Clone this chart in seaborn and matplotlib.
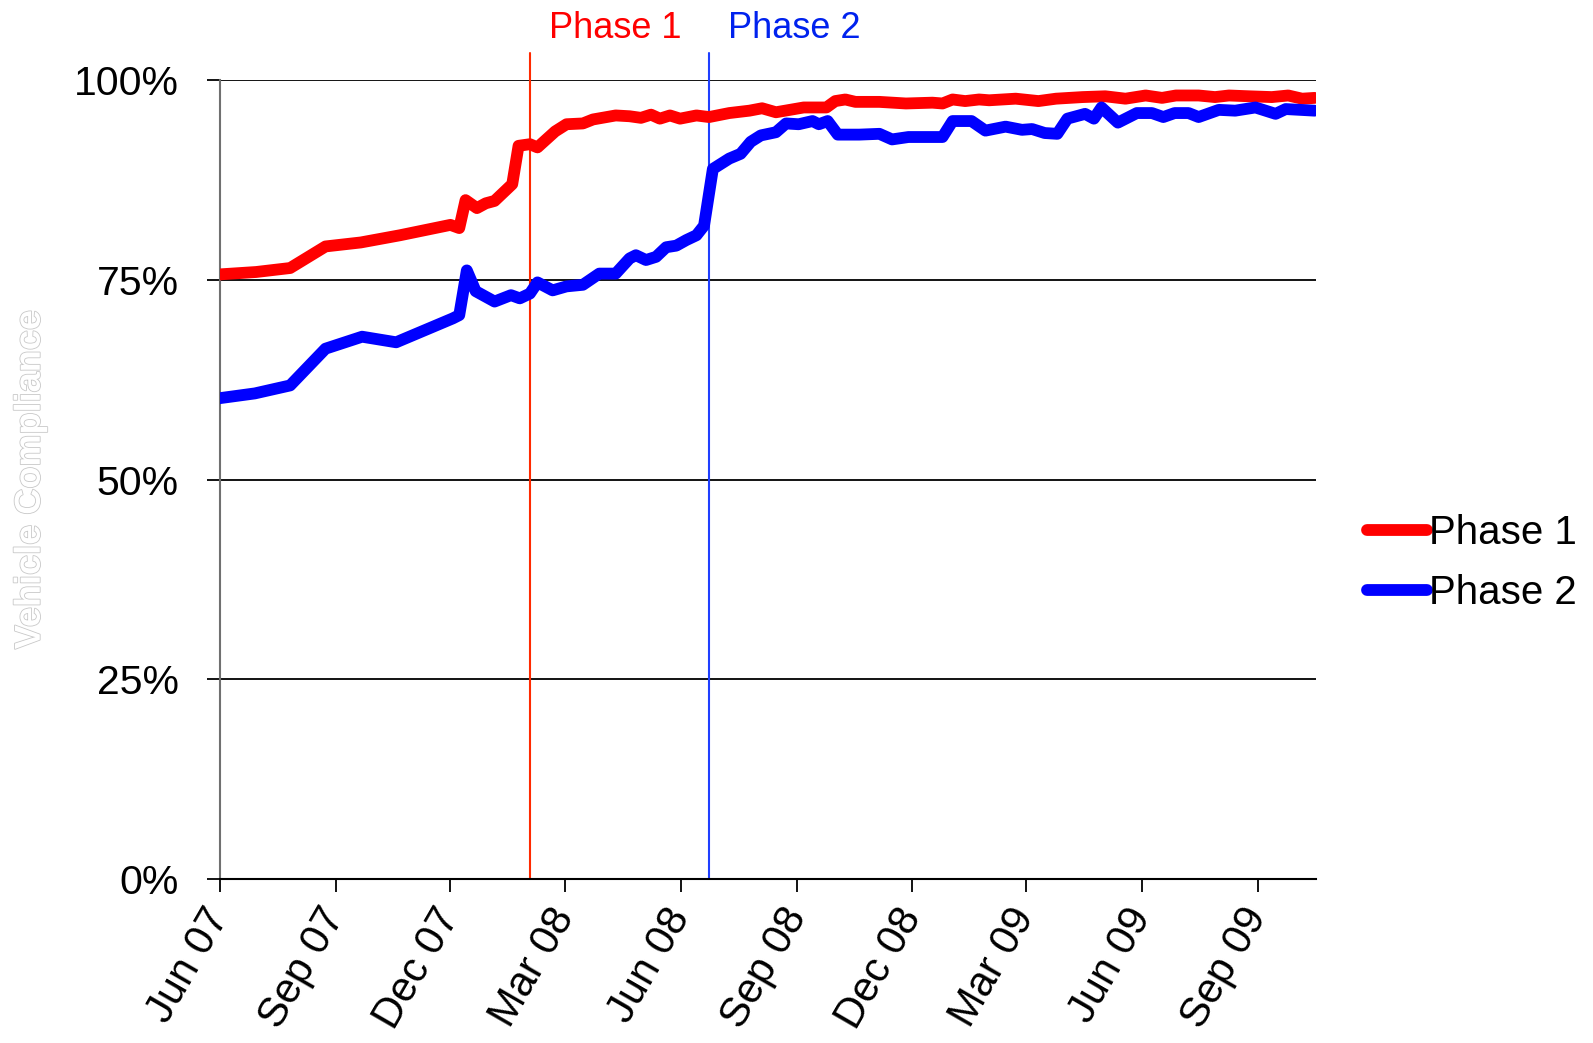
import pandas as pd
import matplotlib
matplotlib.use('Agg')
import matplotlib.pyplot as plt
import matplotlib.dates as mdates
import matplotlib.patheffects as pe
import seaborn as sns

# weekly compliance readings (%)
phase1_dates = [
    '2007-06-01', '2007-06-30', '2007-07-27', '2007-08-24', '2007-09-21', '2007-10-22',
    '2007-12-01', '2007-12-08', '2007-12-13', '2007-12-22', '2007-12-29', '2008-01-05',
    '2008-01-19', '2008-01-24', '2008-02-02', '2008-02-08', '2008-02-22', '2008-03-02',
    '2008-03-15', '2008-03-23', '2008-04-10', '2008-04-21', '2008-04-30', '2008-05-08',
    '2008-05-15', '2008-05-23', '2008-05-31', '2008-06-13', '2008-06-23', '2008-07-09',
    '2008-07-25', '2008-08-04', '2008-08-15', '2008-08-26', '2008-09-06', '2008-09-24',
    '2008-10-01', '2008-10-09', '2008-10-17', '2008-11-05', '2008-11-26', '2008-12-17',
    '2008-12-25', '2009-01-02', '2009-01-12', '2009-01-23', '2009-01-31', '2009-02-21',
    '2009-03-11', '2009-03-25', '2009-04-15', '2009-05-03', '2009-05-19', '2009-06-04',
    '2009-06-17', '2009-06-28', '2009-07-16', '2009-07-29', '2009-08-09', '2009-08-25',
    '2009-09-12', '2009-09-25', '2009-10-06', '2009-10-16',
]
phase1_values = [
    75.7, 76.0, 76.5, 79.2, 79.7, 80.6,
    81.9, 81.5, 85.0, 84.0, 84.6, 84.9,
    87.0, 91.8, 92.0, 91.6, 93.6, 94.5,
    94.6, 95.1, 95.6, 95.5, 95.3, 95.7,
    95.2, 95.6, 95.2, 95.6, 95.4, 95.9,
    96.2, 96.5, 96.0, 96.3, 96.6, 96.6,
    97.4, 97.6, 97.3, 97.3, 97.1, 97.2,
    97.1, 97.6, 97.4, 97.6, 97.5, 97.7,
    97.4, 97.7, 97.9, 98.0, 97.7, 98.1,
    97.8, 98.1, 98.1, 97.9, 98.1, 98.0,
    97.9, 98.1, 97.7, 97.8,
]

phase2_dates = [
    '2007-06-01', '2007-06-29', '2007-07-27', '2007-08-24', '2007-09-22', '2007-10-19',
    '2007-12-03', '2007-12-08', '2007-12-14', '2007-12-21', '2008-01-05', '2008-01-18',
    '2008-01-25', '2008-02-02', '2008-02-08', '2008-02-20', '2008-03-02', '2008-03-15',
    '2008-03-28', '2008-04-10', '2008-04-21', '2008-04-26', '2008-05-04', '2008-05-12',
    '2008-05-20', '2008-05-28', '2008-06-05', '2008-06-13', '2008-06-19', '2008-06-26',
    '2008-07-09', '2008-07-18', '2008-07-26', '2008-08-03', '2008-08-15', '2008-08-23',
    '2008-09-02', '2008-09-13', '2008-09-18', '2008-09-25', '2008-10-03', '2008-10-20',
    '2008-11-05', '2008-11-15', '2008-11-28', '2008-12-25', '2009-01-02', '2009-01-17',
    '2009-01-28', '2009-02-13', '2009-02-26', '2009-03-06', '2009-03-16', '2009-03-26',
    '2009-04-03', '2009-04-17', '2009-04-24', '2009-04-30', '2009-05-13', '2009-05-28',
    '2009-06-09', '2009-06-18', '2009-06-27', '2009-07-08', '2009-07-16', '2009-08-01',
    '2009-08-14', '2009-08-30', '2009-09-15', '2009-09-23', '2009-10-16',
]
phase2_values = [
    60.2, 60.8, 61.8, 66.4, 67.9, 67.2,
    70.2, 70.6, 76.2, 73.6, 72.3, 73.1,
    72.7, 73.3, 74.7, 73.7, 74.2, 74.4,
    75.8, 75.8, 77.7, 78.1, 77.5, 77.9,
    79.1, 79.3, 80.0, 80.6, 81.8, 88.9,
    90.2, 90.8, 92.3, 93.1, 93.5, 94.6,
    94.5, 94.9, 94.5, 94.9, 93.2, 93.2,
    93.3, 92.6, 92.9, 92.9, 94.9, 94.9,
    93.7, 94.2, 93.8, 93.9, 93.4, 93.3,
    95.2, 95.8, 95.2, 96.6, 94.7, 95.9,
    95.9, 95.4, 95.9, 95.9, 95.4, 96.3,
    96.2, 96.6, 95.8, 96.4, 96.2,
]

phase_names = ['Phase 1', 'Phase 2']
phase_start = ['2008-02-02', '2008-06-23']
y_ticks = [0, 25, 50, 75, 100]

df = pd.concat([
    pd.DataFrame({'date': pd.to_datetime(phase1_dates), 'compliance': phase1_values, 'phase': 'Phase 1'}),
    pd.DataFrame({'date': pd.to_datetime(phase2_dates), 'compliance': phase2_values, 'phase': 'Phase 2'}),
])

sns.set_theme(style='white')
plt.rcParams['font.family'] = ['Liberation Sans', 'DejaVu Sans']
plt.rcParams['text.color'] = 'black'
plt.rcParams['xtick.labelcolor'] = 'black'
plt.rcParams['ytick.labelcolor'] = 'black'

fig = plt.figure(figsize=(15.93, 10.43), dpi=100)
ax = fig.add_axes([0.1378, 0.1572, 0.6883, 0.7658])

palette = {'Phase 1': '#ff0000', 'Phase 2': '#0000ff'}
sns.lineplot(data=df, x='date', y='compliance', hue='phase', palette=palette,
             linewidth=8.5, estimator=None, legend=False, ax=ax, zorder=3)
for ln in ax.get_lines():
    ln.set_solid_capstyle('round')
    ln.set_solid_joinstyle('round')

ax.set_xlim(pd.Timestamp('2007-06-01'), pd.Timestamp('2009-10-17'))
ax.set_ylim(0, 100)
ax.set_yticks(y_ticks)
ax.yaxis.set_major_formatter(matplotlib.ticker.FuncFormatter(lambda v, p: f'{v:.0f}%'))
ax.xaxis.set_major_locator(mdates.MonthLocator(bymonth=[3, 6, 9, 12]))
ax.xaxis.set_major_formatter(mdates.DateFormatter('%b %y'))

ax.grid(axis='y', color='black', linewidth=1.3)
ax.grid(axis='x', visible=False)
ax.set_axisbelow(True)
for s in ['top', 'right']:
    ax.spines[s].set_visible(False)
ax.spines['left'].set_color('#707070')
ax.spines['left'].set_linewidth(1.5)
ax.spines['bottom'].set_color('black')
ax.spines['bottom'].set_linewidth(1.5)

ax.tick_params(axis='y', length=9.5, width=1.3, color='black', pad=20, labelsize=29.5, left=True)
ax.tick_params(axis='x', length=9, width=1.3, color='black', pad=14, labelsize=30, bottom=True)
for lbl in ax.get_xticklabels():
    lbl.set_rotation(60)
    lbl.set_ha('right')
    lbl.set_va('center')
    lbl.set_rotation_mode('anchor')
ax.set_xlabel('')
ax.set_ylabel('')

# phase start markers
line_colors = ['#ff2a00', '#1f3fff']
text_colors = ['#ff0000', '#0022ee']
for name, start, lc, tc in zip(phase_names, phase_start, line_colors, text_colors):
    d = mdates.date2num(pd.Timestamp(start))
    ax.axvline(d, ymin=0, ymax=1.034, color=lc, linewidth=1.5, clip_on=False, zorder=2)
    ax.annotate(name, xy=(d, 1.065), xycoords=ax.get_xaxis_transform(),
                xytext=(19, 0), textcoords='offset pixels',
                ha='left', va='center', fontsize=26, color=tc, annotation_clip=False)

fig.text(0.019, 0.54, 'Vehicle Compliance', rotation=90, ha='center', va='center',
         fontsize=26, fontweight='bold', color='white',
         path_effects=[pe.withStroke(linewidth=1.2, foreground='#c8c8c8')])

handles = [plt.Line2D([], [], color=palette[n], linewidth=8.5, solid_capstyle='round') for n in phase_names]
fig.legend(handles, phase_names, loc='center left', bbox_to_anchor=(0.858, 0.460),
           frameon=False, fontsize=29, handlelength=1.5, handletextpad=0.05,
           labelspacing=0.55, borderaxespad=0, borderpad=0)

fig.savefig('out.png', dpi=100)
